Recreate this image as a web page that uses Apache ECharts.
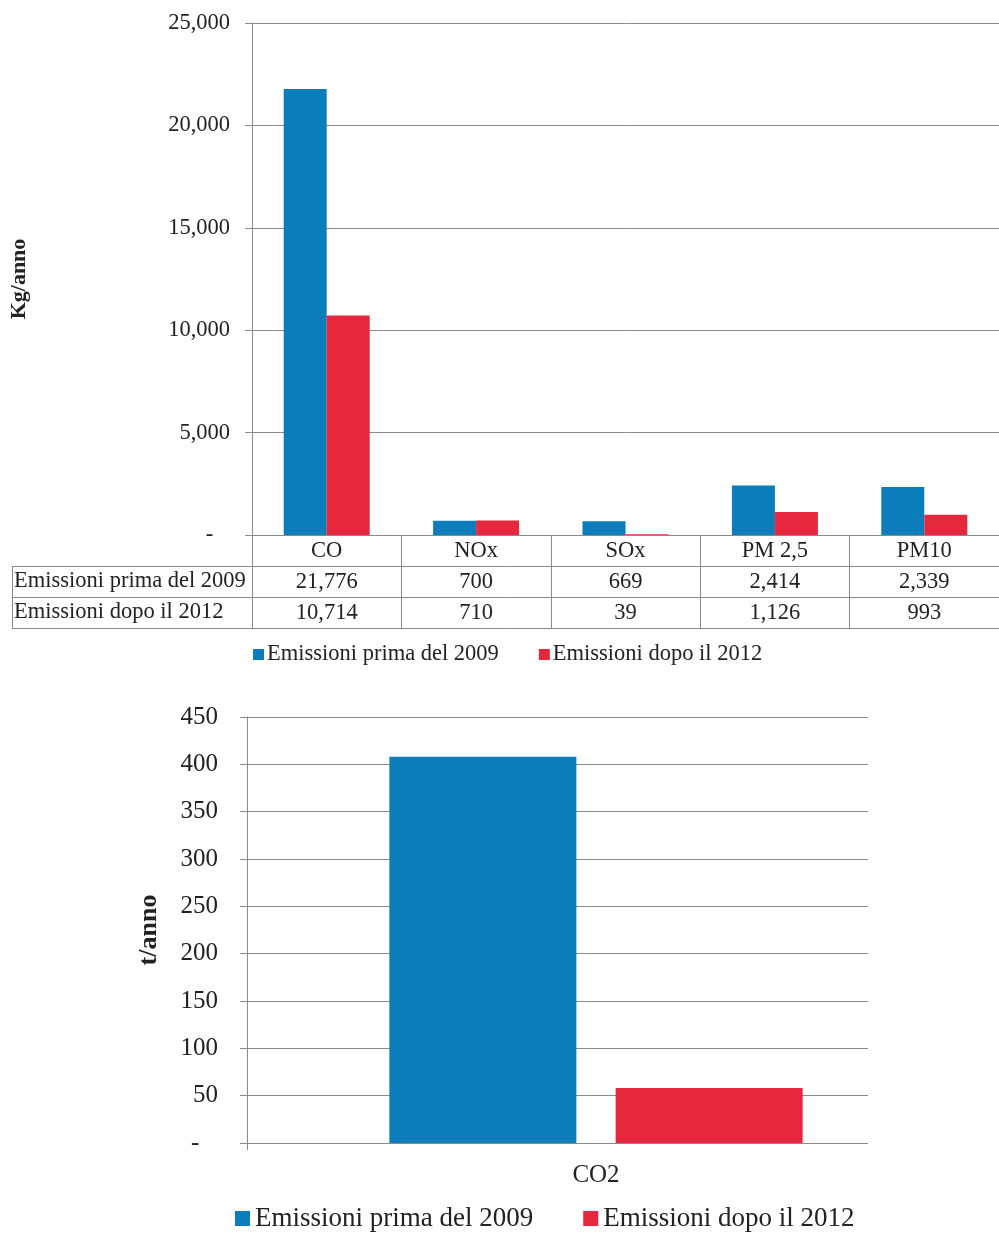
<!DOCTYPE html>
<html><head><meta charset="utf-8">
<script src="https://cdn.jsdelivr.net/npm/echarts@6/dist/echarts.min.js"></script>
<style>html,body{margin:0;padding:0;background:#fff;width:999px;height:1233px;overflow:hidden}
#chartTop{position:absolute;left:0;top:0;width:999px;height:680px}
#chartBot{position:absolute;left:0;top:680px;width:999px;height:553px}</style>
</head><body><div id="chartTop"></div><div id="chartBot"></div>
<script>
// ---- data ----
const pollutants = ['CO', 'NOx', 'SOx', 'PM 2,5', 'PM10'];
const seriesNames = ['Emissioni prima del 2009', 'Emissioni dopo il 2012'];
const before2009 = [21776, 700, 669, 2414, 2339];
const after2012 = [10714, 710, 39, 1126, 993];
const kgAxis = { min: 0, max: 25000, interval: 5000 };
const co2Category = ['CO2'];
const co2Before = [408];
const co2After = [58];
const tAxis = { min: 0, max: 450, interval: 50 };

// ---- style ----
const FONT = "'Liberation Serif','Times New Roman',serif";
const BLUE = '#0a7dba';
const RED = '#e5283e';
const LINE = '#8a8a8a';
const TXT = '#222';
const FS1 = 22.5;
const fmt = v => v.toLocaleString('en-US');

// ---- top chart ----
const G1 = { left: 251, top: 23, width: 755, height: 512 };
const rowH = 31;
const tableTop = G1.top + G1.height;
const tableLeft = 12;
const rowsData = [before2009, after2012];

const tableGraphics = [];
for (let r = 1; r <= 3; r++) {
  const y = tableTop + rowH * r + 0.5;
  tableGraphics.push({ type: 'line', shape: { x1: tableLeft, y1: y, x2: 999, y2: y }, style: { stroke: LINE, lineWidth: 1 }, silent: true });
}
tableGraphics.push({ type: 'line', shape: { x1: tableLeft + 0.5, y1: tableTop + rowH, x2: tableLeft + 0.5, y2: tableTop + rowH * 3 + 0.5 }, style: { stroke: LINE, lineWidth: 1 } });
seriesNames.forEach((n, i) => {
  tableGraphics.push({ type: 'text', left: tableLeft + 2, top: tableTop + rowH * (i + 1) + 4,
    style: { text: n, font: FS1 + 'px ' + FONT, fill: TXT } });
});

const chartTop = echarts.init(document.getElementById('chartTop'));
chartTop.setOption({
  animation: false,
  grid: G1,
  legend: {
    data: seriesNames, left: 248, top: 638, icon: 'rect', itemWidth: 11, itemHeight: 11, itemGap: 40,
    textStyle: { fontFamily: FONT, fontSize: FS1, color: TXT, padding: [0, 0, 0, -2] }
  },
  xAxis: {
    type: 'category', data: pollutants,
    axisLine: { show: true, lineStyle: { color: LINE } },
    axisTick: { show: true, interval: 0, length: rowH * 3, lineStyle: { color: LINE } },
    axisLabel: {
      interval: 0, margin: 1, verticalAlign: 'top', lineHeight: rowH,
      fontFamily: FONT, fontSize: FS1, color: TXT,
      formatter: (v, i) => v + '\n' + rowsData.map(d => fmt(d[i])).join('\n')
    }
  },
  yAxis: {
    type: 'value', min: kgAxis.min, max: kgAxis.max, interval: kgAxis.interval,
    name: 'Kg/anno', nameLocation: 'middle', nameGap: 222, nameRotate: 90,
    nameTextStyle: { fontFamily: FONT, fontSize: 22, fontWeight: 'bold', color: TXT },
    axisLine: { show: true, lineStyle: { color: LINE } },
    axisTick: { show: true, length: 7, lineStyle: { color: LINE } },
    splitLine: { lineStyle: { color: LINE } },
    axisLabel: { margin: 22, fontFamily: FONT, fontSize: FS1, color: TXT,
      formatter: v => v === 0 ? '-   ' : fmt(v) }
  },
  graphic: tableGraphics,
  series: [
    { name: seriesNames[0], type: 'bar', data: before2009, barWidth: 43, barGap: '0%', itemStyle: { color: BLUE } },
    { name: seriesNames[1], type: 'bar', data: after2012, barWidth: 43, barGap: '0%', itemStyle: { color: RED } }
  ]
});

// ---- bottom chart ----
const G2 = { left: 247, top: 37, width: 698, height: 426 };
const gridEnd = 868;
const chartBot = echarts.init(document.getElementById('chartBot'));
chartBot.setOption({
  animation: false,
  grid: G2,
  legend: {
    data: seriesNames, left: 230, top: 520, icon: 'rect', itemWidth: 15, itemHeight: 15, itemGap: 50,
    textStyle: { fontFamily: FONT, fontSize: 27, color: TXT }
  },
  xAxis: {
    type: 'category', data: co2Category,
    axisLine: { show: true, lineStyle: { color: LINE } },
    axisTick: { show: true, length: 7, lineStyle: { color: LINE } },
    axisLabel: { margin: 20, fontFamily: FONT, fontSize: 25, color: TXT }
  },
  yAxis: {
    type: 'value', min: tAxis.min, max: tAxis.max, interval: tAxis.interval,
    name: 't/anno', nameLocation: 'middle', nameGap: 85, nameRotate: 90,
    nameTextStyle: { fontFamily: FONT, fontSize: 26, fontWeight: 'bold', color: TXT },
    axisLine: { show: true, lineStyle: { color: LINE } },
    axisTick: { show: true, length: 7, lineStyle: { color: LINE } },
    splitLine: { lineStyle: { color: LINE } },
    axisLabel: { margin: 29, fontFamily: FONT, fontSize: 25, color: TXT,
      formatter: v => v === 0 ? '-   ' : fmt(v) }
  },
  graphic: [{ type: 'rect', z: 1, shape: { x: gridEnd, y: G2.top - 5, width: 999 - gridEnd, height: G2.height + 20 }, style: { fill: '#fff' }, silent: true }],
  series: [
    { name: seriesNames[0], type: 'bar', data: co2Before, barWidth: 187, barGap: '21%', itemStyle: { color: BLUE } },
    { name: seriesNames[1], type: 'bar', data: co2After, barWidth: 187, barGap: '21%', itemStyle: { color: RED } }
  ]
});
</script></body></html>
